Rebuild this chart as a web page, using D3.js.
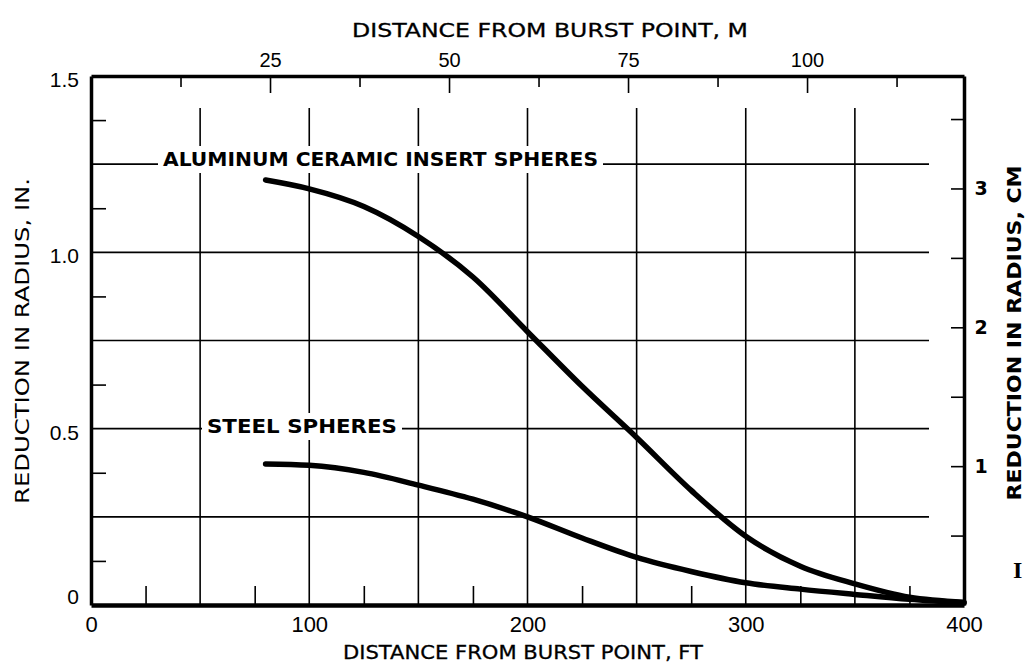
<!DOCTYPE html>
<html>
<head>
<meta charset="utf-8">
<script src="https://cdn.jsdelivr.net/npm/d3@7"></script>
<style>
  html, body { margin: 0; padding: 0; background: #fff; }
  svg { display: block; font-family: "DejaVu Sans", sans-serif; }
  .axis path, .axis line { stroke: #000; }
  .axis text { fill: #000; }
</style>
</head>
<body>
<svg id="chart" width="1026" height="668"></svg>
<script>
// Distance from burst point (ft) and reduction in radius (in.)
const distanceFt = [80, 100, 125, 150, 175, 200, 225, 250, 275, 300, 325, 350, 375, 400];
const aluminumIn = [1.205, 1.18, 1.13, 1.045, 0.93, 0.775, 0.62, 0.475, 0.325, 0.195, 0.11, 0.06, 0.022, 0.008];
const steelIn    = [0.40, 0.396, 0.376, 0.34, 0.30, 0.25, 0.19, 0.135, 0.095, 0.063, 0.045, 0.03, 0.016, 0.006];

// Axis ticks
const ftLabels   = [0, 100, 200, 300, 400];
const ftMinor    = [25, 75, 125, 175, 225, 275, 325, 375];
const ftGrid     = [50, 100, 150, 200, 250, 300, 350];
const mLabels    = [25, 50, 75, 100];
const mMinor     = [12.5, 37.5, 62.5, 87.5, 112.5];
const inLabels   = [0, 0.5, 1.0, 1.5];
const inMinor    = [0.125, 0.375, 0.625, 0.875, 1.125, 1.375];
const inGrid     = [0.25, 0.5, 0.75, 1.0, 1.25];
const cmLabels   = [1, 2, 3];
const cmTicks    = [0.5, 1, 1.5, 2, 2.5, 3, 3.5];

const seriesNames = ["ALUMINUM CERAMIC INSERT SPHERES", "STEEL SPHERES"];

const svg = d3.select("#chart");
const L = 91, R = 964, T = 76, B = 605;

const x  = d3.scaleLinear([0, 400], [L, R]);
const xm = d3.scaleLinear([0, 400 * 0.3048], [L, R]);
const y  = d3.scaleLinear([0, 1.5], [B, T]);
const ycm = d3.scaleLinear([0, 1.5 * 2.54], [B, T]);

// Grid
const grid = svg.append("g").attr("stroke", "#000").attr("stroke-width", 1.6);
grid.selectAll(".v").data(ftGrid).join("line")
  .attr("x1", d => x(d)).attr("x2", d => x(d))
  .attr("y1", 108).attr("y2", B);
grid.selectAll(".h").data(inGrid).join("line")
  .attr("x1", L).attr("x2", 929)
  .attr("y1", d => y(d)).attr("y2", d => y(d));

// Curves
const line = d3.line()
  .x((d, i) => x(distanceFt[i]))
  .y(d => y(d))
  .curve(d3.curveMonotoneX);

svg.append("path").datum(aluminumIn)
  .attr("d", line).attr("fill", "none").attr("stroke", "#000")
  .attr("stroke-width", 5.5).attr("stroke-linecap", "round");
svg.append("path").datum(steelIn)
  .attr("d", line).attr("fill", "none").attr("stroke", "#000")
  .attr("stroke-width", 5.5).attr("stroke-linecap", "round");

// Curve labels on white boxes sitting on a grid line
function curveLabel(text, x0, x1, baseline) {
  svg.append("rect").attr("x", x0 - 5).attr("y", baseline - 20)
    .attr("width", x1 - x0 + 10).attr("height", 27).attr("fill", "#fff");
  svg.append("text").attr("x", x0).attr("y", baseline)
    .attr("textLength", x1 - x0).attr("lengthAdjust", "spacingAndGlyphs")
    .attr("font-size", 19).attr("font-weight", "bold")
    .text(text);
}
curveLabel(seriesNames[0], 163, 598, 166);
curveLabel(seriesNames[1], 207, 397, 433);

// Bottom axis (ft)
const axisFt = svg.append("g").attr("class", "axis").attr("transform", `translate(0,${B})`)
  .call(d3.axisBottom(x).tickValues(ftLabels).tickSize(0).tickSizeOuter(0).tickPadding(10)
    .tickFormat(d3.format("d")));
axisFt.select(".domain").attr("stroke-width", 4.5);
axisFt.selectAll("text").attr("font-size", 22).attr("dy", "0.75em");
svg.append("g").attr("class", "axis").attr("transform", `translate(0,${B})`)
  .call(d3.axisBottom(x).tickValues(ftMinor).tickSize(-19).tickSizeOuter(0).tickFormat(""))
  .call(g => g.select(".domain").remove())
  .selectAll("line").attr("stroke-width", 1.6);

// Top axis (m)
const axisM = svg.append("g").attr("class", "axis").attr("transform", `translate(0,${T})`)
  .call(d3.axisTop(xm).tickValues(mLabels).tickSize(-17).tickSizeOuter(0).tickPadding(9)
    .tickFormat(d3.format("d")));
axisM.select(".domain").attr("stroke-width", 3.5);
axisM.selectAll("line").attr("stroke-width", 1.6);
axisM.selectAll("text").attr("font-size", 20);
svg.append("g").attr("class", "axis").attr("transform", `translate(0,${T})`)
  .call(d3.axisTop(xm).tickValues(mMinor).tickSize(-11).tickSizeOuter(0).tickFormat(""))
  .call(g => g.select(".domain").remove())
  .selectAll("line").attr("stroke-width", 1.6);

// Left axis (in.)
const axisIn = svg.append("g").attr("class", "axis").attr("transform", `translate(${L},0)`)
  .call(d3.axisLeft(y).tickValues(inLabels).tickSize(0).tickSizeOuter(0).tickPadding(12)
    .tickFormat(d => d === 0 ? "0" : d3.format(".1f")(d)));
axisIn.select(".domain").attr("stroke-width", 3.5);
axisIn.selectAll("text").attr("font-size", 21)
  .attr("dy", d => d === 0 ? "-0.05em" : "0.5em");
svg.append("g").attr("class", "axis").attr("transform", `translate(${L},0)`)
  .call(d3.axisLeft(y).tickValues(inMinor).tickSize(-15).tickSizeOuter(0).tickFormat(""))
  .call(g => g.select(".domain").remove())
  .selectAll("line").attr("stroke-width", 1.6);

// Right axis (cm): inward ticks, labels outside the frame
const axisCm = svg.append("g").attr("class", "axis").attr("transform", `translate(${R},0)`)
  .call(d3.axisRight(ycm).tickValues(cmTicks).tickSize(-13).tickSizeOuter(0).tickFormat(""));
axisCm.select(".domain").attr("stroke-width", 3.5);
axisCm.selectAll("line").attr("stroke-width", 1.6);
svg.append("g").selectAll("text").data(cmLabels).join("text")
  .attr("x", R + 17).attr("y", d => ycm(d))
  .attr("text-anchor", "middle").attr("dy", "0.36em")
  .attr("font-size", 19).attr("font-weight", "bold")
  .text(d => d);

// Axis titles
svg.append("text").attr("x", 550).attr("y", 37).attr("text-anchor", "middle")
  .attr("font-size", 19).attr("textLength", 396).attr("lengthAdjust", "spacingAndGlyphs")
  .attr("stroke", "#000").attr("stroke-width", 0.3)
  .text("DISTANCE FROM BURST POINT, M");
svg.append("text").attr("x", 523).attr("y", 659).attr("text-anchor", "middle")
  .attr("font-size", 19).attr("textLength", 360).attr("lengthAdjust", "spacingAndGlyphs")
  .attr("stroke", "#000").attr("stroke-width", 0.3)
  .text("DISTANCE FROM BURST POINT, FT");
svg.append("text").attr("transform", "translate(29,341) rotate(-90)").attr("text-anchor", "middle")
  .attr("font-size", 19).attr("textLength", 326).attr("lengthAdjust", "spacingAndGlyphs")
  .text("REDUCTION IN RADIUS, IN.");
svg.append("text").attr("transform", "translate(1021,333) rotate(-90)").attr("text-anchor", "middle")
  .attr("font-size", 20).attr("font-weight", "bold")
  .attr("textLength", 335).attr("lengthAdjust", "spacingAndGlyphs")
  .text("REDUCTION IN RADIUS, CM");

// Margin mark
svg.append("text").attr("x", 1013).attr("y", 578)
  .attr("font-family", "Liberation Serif, serif").attr("font-weight", "bold")
  .attr("font-size", 24).text("I");
</script>
</body>
</html>
